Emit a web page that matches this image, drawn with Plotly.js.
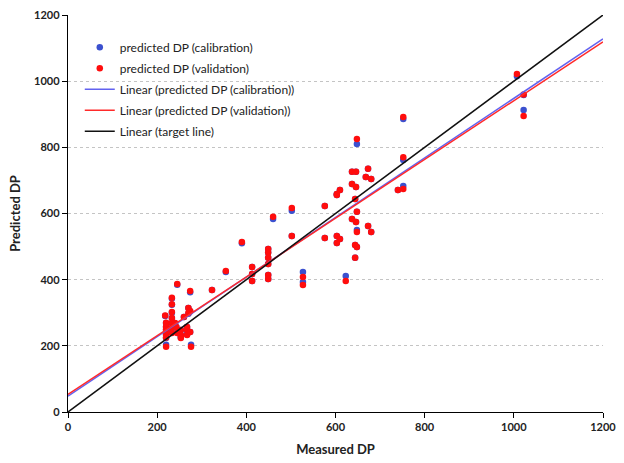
<!DOCTYPE html>
<html>
<head>
<meta charset="utf-8">
<script src="https://cdn.plot.ly/plotly-3.0.1.min.js"></script>
<style>html,body{margin:0;padding:0;background:#fff;}#chart{width:624px;height:463px;}</style>
</head>
<body>
<div id="chart"></div>
<script>
// Measured DP for each sample
var measuredDP = [218,220,220,220,220,220,220,233,233,233,233,233,233,233,240,243,245,245,253,253,253,260,267,267,267,270,274,270,274,276,274,323,354,390,413,413,413,449,449,449,449,449,449,460,502,502,527,527,576,576,603,603,610,603,610,603,623,637,646,637,646,644,648,637,646,648,644,648,644,648,673,668,680,673,680,740,752,752,752,1007,1022,1022];
// Predicted DP, calibration model
var predCalibration = [290,269,257,248,233,224,203,343,324,300,284,268,254,240,268,257,240,385,248,233,226,287,257,248,235,314,304,297,242,203,362,369,423,510,438,417,396,493,481,466,447,414,402,583,608,532,423,393,623,526,656,532,523,511,671,659,411,726,726,689,680,644,605,583,574,550,505,499,466,810,735,710,704,562,544,671,683,762,886,1015,958,913];
// Predicted DP, validation model
var predValidation = [292,270,258,250,235,225,197,345,326,302,284,269,254,239,269,257,239,387,248,233,224,287,257,248,233,314,305,299,242,197,366,369,426,514,438,417,396,493,481,466,447,414,402,590,617,532,408,384,623,526,656,532,523,511,671,659,396,726,726,689,680,644,605,583,574,544,505,499,466,825,735,710,704,562,544,671,674,770,892,1022,960,895];
// Linear trendlines: [intercept, slope]
var calibFit = [48, 0.900];
var validFit = [53, 0.888];
var lineX = [0, 1200];
var xTicks = [0,200,400,600,800,1000,1200];
var yTicks = [0,200,400,600,800,1000,1200];

function fitY(f){ return lineX.map(function(x){ return f[0] + f[1]*x; }); }

var traces = [
  {x: measuredDP, y: predCalibration, type:'scatter', mode:'markers', name:'predicted DP (calibration)',
   legendgroup:'a', marker:{color:'#3b50cf', size:6.5}},
  {x: measuredDP, y: predValidation, type:'scatter', mode:'markers', name:'predicted DP (validation)',
   legendgroup:'b', marker:{color:'#ff0d0d', size:6.5}},
  {x: lineX, y: fitY(calibFit), type:'scatter', mode:'lines', name:'Linear (predicted DP (calibration))',
   legendgroup:'c', line:{color:'#6262f0', width:1.5}},
  {x: lineX, y: fitY(validFit), type:'scatter', mode:'lines', name:'Linear (predicted DP (validation))',
   legendgroup:'d', line:{color:'#ff2a2a', width:1.5}},
  {x: lineX, y: lineX, type:'scatter', mode:'lines', name:'Linear (target line)',
   legendgroup:'e', line:{color:'#111111', width:1.5}}
];

var font = "Lato, 'Liberation Sans', sans-serif";
var layout = {
  width:624, height:463,
  margin:{l:68, r:21, t:15, b:51},
  paper_bgcolor:'#fff', plot_bgcolor:'#fff',
  font:{family:font, color:'#222'},
  showlegend:true,
  legend:{x:0.022, y:0.955, xanchor:'left', yanchor:'top', bgcolor:'rgba(0,0,0,0)',
          font:{family:font, size:12, color:'#222'}, tracegroupgap:2, itemwidth:30},
  xaxis:{range:[0,1200], tickvals:xTicks, ticks:'outside', ticklen:5, tickcolor:'#000',
         showline:true, linecolor:'#000', linewidth:1.2, showgrid:false, zeroline:false,
         tickfont:{family:font, size:11, color:'#222', weight:'bold'},
         title:{text:'<b>Measured DP</b>', font:{family:font, size:13, color:'#222'}, standoff:12}},
  yaxis:{range:[0,1200], tickvals:yTicks, ticks:'outside', ticklen:5, tickcolor:'#000',
         showline:true, linecolor:'#000', linewidth:1.2, showgrid:true, gridcolor:'#c4c4c4',
         griddash:'dot', gridwidth:1, zeroline:false,
         tickfont:{family:font, size:11, color:'#222', weight:'bold'},
         title:{text:'<b>Predicted DP</b>', font:{family:font, size:13, color:'#222'}, standoff:10}}
};
Plotly.newPlot('chart', traces, layout, {displayModeBar:false, staticPlot:true});
</script>
</body>
</html>
